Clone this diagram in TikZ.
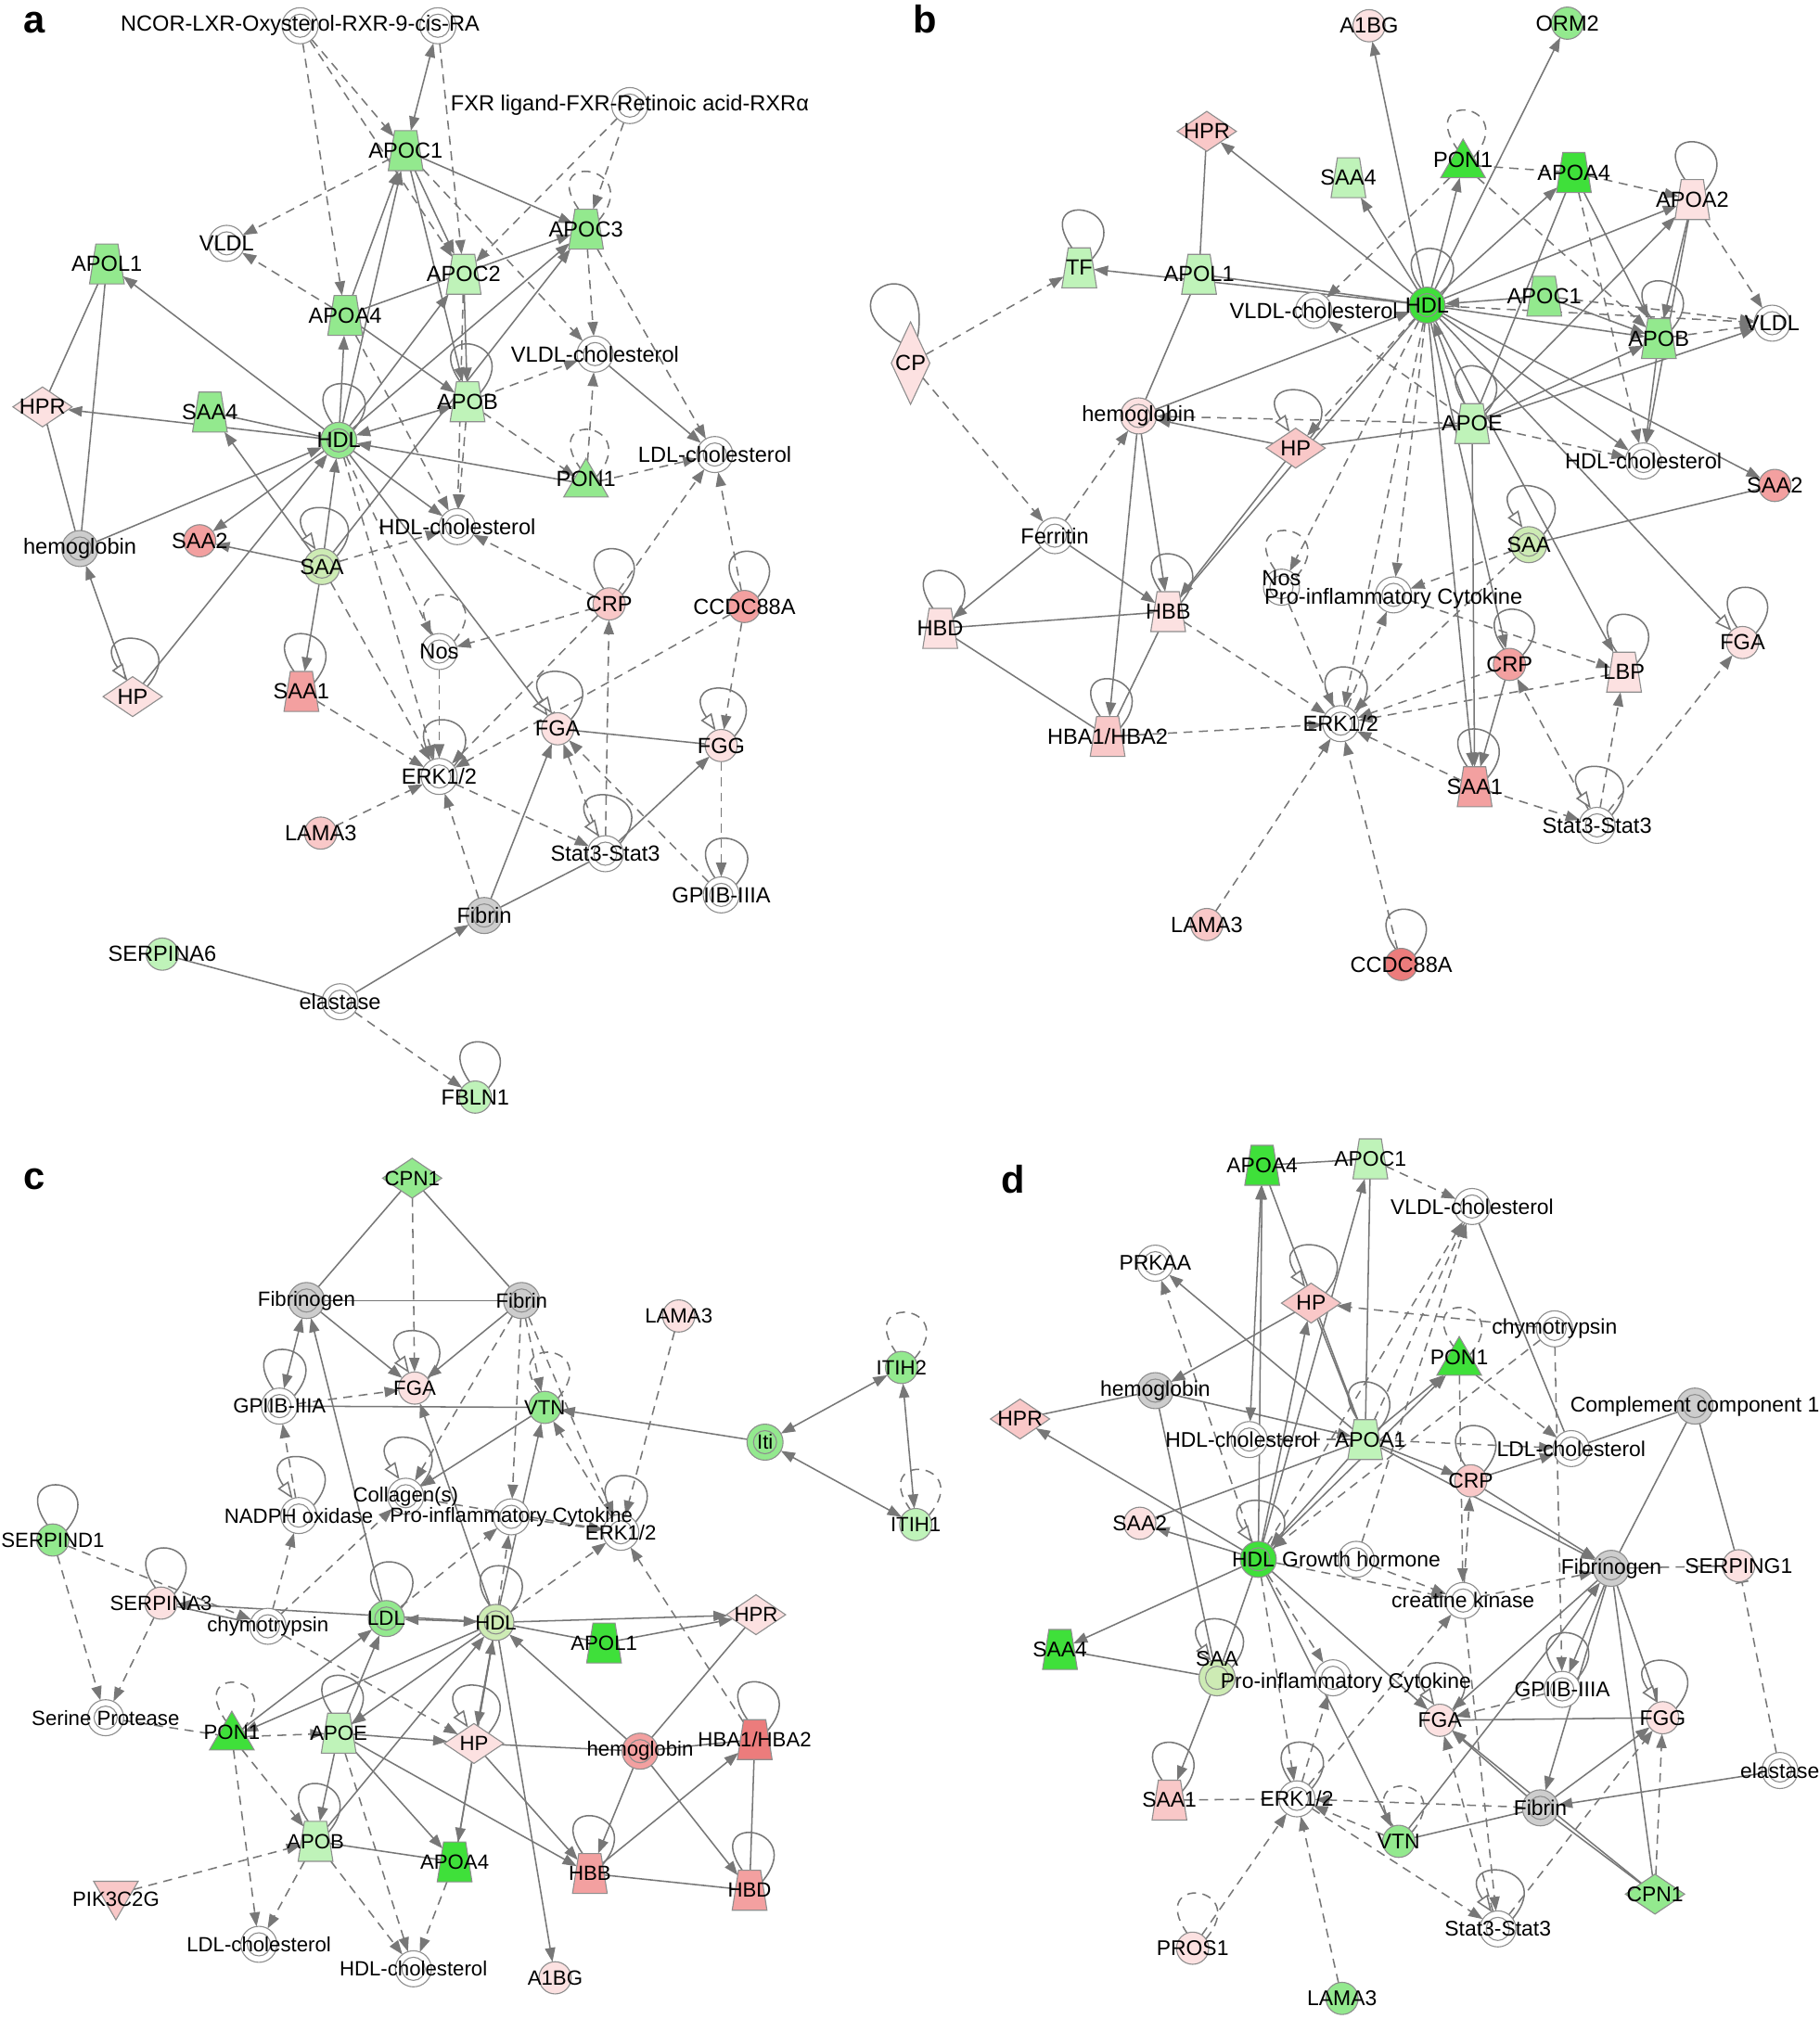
\documentclass[tikz,border=0pt]{standalone}
\usepackage{fontspec}
\setmainfont{Liberation Sans}
\usetikzlibrary{shapes.geometric,arrows.meta}
\pgfdeclarelayer{back}
\pgfdeclarelayer{bg}
\pgfdeclarelayer{fg}
\pgfsetlayers{back,bg,main,fg}
\definecolor{ec}{HTML}{777777}
\definecolor{bc}{HTML}{8E8E8E}
\definecolor{ga}{HTML}{BFF3B9}
\definecolor{gb}{HTML}{93E98E}
\definecolor{gc}{HTML}{3FE03A}
\definecolor{gs}{HTML}{CDEBB4}
\definecolor{pa}{HTML}{FCE1E1}
\definecolor{pb}{HTML}{F9C8C8}
\definecolor{pc}{HTML}{F3A0A0}
\definecolor{pr}{HTML}{EC7C7C}
\definecolor{gy}{HTML}{CDCDCD}
\tikzset{
  base/.style={draw=bc,line width=0.8pt,inner sep=0pt,outer sep=0pt},
  cir/.style={base,circle,minimum size=25pt},
  dcir/.style={base,circle,minimum size=28pt,path picture={\draw[bc,line width=0.8pt] (path picture bounding box.center) circle (9pt);}},
  trap/.style={base,trapezium,inner sep=2pt,trapezium left angle=74,trapezium right angle=74,trapezium stretches=true,minimum width=27pt,minimum height=31pt},
  tri/.style={base,regular polygon,regular polygon sides=3,minimum size=40pt},
  itri/.style={tri,shape border rotate=180},
  dia/.style={base,diamond,minimum width=46pt,minimum height=31pt},
  tdia/.style={base,diamond,minimum width=30pt,minimum height=64pt},
  lbl/.style={font=\fontsize{17}{17}\selectfont,inner sep=0pt},
  ln/.style={draw=ec,line width=1.1pt},
  dsh/.style={dash pattern=on 7pt off 5pt},
  sa/.style={ln,-{Triangle[length=11pt,width=8pt]}},
  da/.style={sa,dsh},
  sb/.style={ln,{Triangle[length=11pt,width=8pt]}-{Triangle[length=11pt,width=8pt]}},
  db/.style={sb,dsh},
  sl/.style={ln},
  dl/.style={ln,dsh},
  so/.style={ln,-{Triangle[open,length=13pt,width=10pt,fill=white]}},
  dt/.style={ln,dsh,-{Bar[width=10pt]}},
  plab/.style={font=\bfseries\fontsize{30}{30}\selectfont,inner sep=0pt}
}
\newcommand\mknode[7][]{\node[#3,fill=#4] (#2) at (#5,#6) {};\begin{pgfonlayer}{fg}\node[lbl,#1] (#2t) at (#2) {#7};\end{pgfonlayer}}
\newcommand\lnk[3]{\draw[#1] (#2) -- (#3);}
\newcommand\slf[2]{\draw[#1] (#2.35) to[out=50,in=125,min distance=56pt] (#2.110);}
\begin{document}
\begin{tikzpicture}[x=1pt,y=-1pt]
\useasboundingbox (0,0) rectangle (1413,1568);
\begin{pgfonlayer}{back}\fill[white] (0,0) rectangle (1413,1568);\end{pgfonlayer}
\node[plab] (la) at (27,18) {a};
\node[plab] (lb) at (718,15) {b};
\node[plab] (lc) at (27,916) {c};
\node[plab] (ld) at (787,916) {d};
% ================= panel a
\mknode{ancor}{dcir}{white}{233}{20}{NCOR-LXR-Oxysterol-RXR-9-cis-RA}
\mknode{ancr}{dcir}{white}{340}{20}{}
\mknode{afxr}{dcir}{white}{489}{82}{FXR ligand-FXR-Retinoic acid-RXRα}
\mknode{aapoc1}{trap}{gb}{315}{117}{APOC1}
\mknode{aapoc3}{trap}{gb}{455}{178}{APOC3}
\mknode{aapoc2}{trap}{ga}{360}{213}{APOC2}
\mknode{avldl}{dcir}{white}{176}{189}{VLDL}
\mknode{aapol1}{trap}{gb}{83}{205}{APOL1}
\mknode{aapoa4}{trap}{gb}{268}{245}{APOA4}
\mknode{avldlc}{dcir}{white}{462}{275}{VLDL-cholesterol}
\mknode{aapob}{trap}{ga}{363}{312}{APOB}
\mknode{ahpr}{dia}{pa}{33}{316}{HPR}
\mknode{asaa4}{trap}{gb}{163}{320}{SAA4}
\mknode{ahdl}{dcir}{gb}{263}{342}{HDL}
\mknode[yshift=4pt]{apon1}{tri}{gb}{455}{376}{PON1}
\mknode{aldlc}{dcir}{white}{555}{353}{LDL-cholesterol}
\mknode{ahdlc}{dcir}{white}{355}{409}{HDL-cholesterol}
\mknode{ahemo}{dcir}{gy}{62}{426}{hemoglobin}
\mknode{asaa2}{cir}{pc}{155}{420}{SAA2}
\mknode{asaa}{dcir}{gs}{250}{440}{SAA}
\mknode{acrp}{cir}{pb}{473}{469}{CRP}
\mknode{accdc}{cir}{pc}{578}{471}{CCDC88A}
\mknode{anos}{dcir}{white}{341}{506}{Nos}
\mknode{ahp}{dia}{pa}{103}{541}{HP}
\mknode{asaa1}{trap}{pc}{234}{537}{SAA1}
\mknode{afga}{cir}{pa}{433}{566}{FGA}
\mknode{afgg}{cir}{pa}{560}{579}{FGG}
\mknode{aerk}{dcir}{white}{341}{603}{ERK1/2}
\mknode{alama3}{cir}{pb}{249}{647}{LAMA3}
\mknode{astat}{dcir}{white}{470}{663}{Stat3-Stat3}
\mknode{agp}{dcir}{white}{560}{695}{GPIIB-IIIA}
\mknode{afibrin}{dcir}{gy}{376}{711}{Fibrin}
\mknode{aserp}{cir}{ga}{126}{741}{SERPINA6}
\mknode{aelast}{dcir}{white}{264}{778}{elastase}
\mknode{afbln}{cir}{ga}{369}{852}{FBLN1}
% ================= panel b
\mknode{ba1bg}{cir}{pa}{1063}{20}{A1BG}
\mknode{borm2}{cir}{gb}{1217}{18}{ORM2}
\mknode{bhpr}{dia}{pb}{937}{102}{HPR}
\mknode[yshift=4pt]{bpon1}{tri}{gc}{1136}{128}{PON1}
\mknode{bsaa4}{trap}{ga}{1047}{138}{SAA4}
\mknode{bapoa4}{trap}{gc}{1222}{134}{APOA4}
\mknode{bapoa2}{trap}{pa}{1314}{155}{APOA2}
\mknode{btf}{trap}{ga}{838}{208}{TF}
\mknode{bapol1}{trap}{ga}{931}{213}{APOL1}
\mknode{bvldlc}{dcir}{white}{1020}{241}{VLDL-cholesterol}
\mknode{bhdl}{dcir}{gc}{1108}{237}{HDL}
\mknode{bapoc1}{trap}{gb}{1199}{230}{APOC1}
\mknode{bapob}{trap}{gb}{1288}{263}{APOB}
\mknode{bvldl}{dcir}{white}{1376}{251}{VLDL}
\mknode{bcp}{tdia}{pa}{707}{282}{CP}
\mknode{bhemo}{dcir}{pa}{884}{323}{hemoglobin}
\mknode{bhp}{dia}{pb}{1006}{348}{HP}
\mknode{bapoe}{trap}{ga}{1143}{329}{APOE}
\mknode{bhdlc}{dcir}{white}{1276}{358}{HDL-cholesterol}
\mknode{bsaa2}{cir}{pc}{1378}{377}{SAA2}
\mknode{bferr}{dcir}{white}{819}{416}{Ferritin}
\mknode{bsaa}{dcir}{gs}{1187}{423}{SAA}
\mknode{bhbb}{trap}{pa}{907}{475}{HBB}
\mknode{bhbd}{trap}{pa}{730}{488}{HBD}
\mknode[yshift=7pt]{bnos}{dcir}{white}{995}{456}{Nos}
\mknode[yshift=-3pt]{bpro}{dcir}{white}{1082}{462}{Pro-inflammatory Cytokine}
\mknode{bcrp}{cir}{pc}{1172}{516}{CRP}
\mknode{blbp}{trap}{pa}{1261}{522}{LBP}
\mknode{bfga}{cir}{pa}{1353}{499}{FGA}
\mknode{bhba}{trap}{pb}{860}{572}{HBA1/HBA2}
\mknode{berk}{dcir}{white}{1041}{562}{ERK1/2}
\mknode{bsaa1}{trap}{pc}{1145}{611}{SAA1}
\mknode{bstat}{dcir}{white}{1240}{641}{Stat3-Stat3}
\mknode{blama3}{cir}{pb}{937}{718}{LAMA3}
\mknode{bccdc}{cir}{pr}{1088}{749}{CCDC88A}
% ================= panel c
\begin{scope}[lbl/.style={font=\fontsize{16}{16}\selectfont,inner sep=0pt}]
\mknode{ccpn1}{dia}{gb}{320}{915}{CPN1}
\mknode{cfbg}{dcir}{gy}{238}{1010}{Fibrinogen}
\mknode{cfib}{dcir}{gy}{405}{1010}{Fibrin}
\mknode{clama3}{cir}{pa}{527}{1022}{LAMA3}
\mknode{cfga}{cir}{pa}{322}{1078}{FGA}
\mknode{cgp}{dcir}{white}{217}{1092}{GPIIB-IIIA}
\mknode{cvtn}{cir}{gb}{423}{1093}{VTN}
\mknode{citih2}{cir}{gb}{700}{1062}{ITIH2}
\mknode{citi}{dcir}{gb}{594}{1120}{Iti}
\mknode{citih1}{cir}{ga}{711}{1184}{ITIH1}
\mknode{ccoll}{dcir}{white}{315}{1162}{Collagen(s)}
\mknode{cnad}{dcir}{white}{232}{1177}{NADPH oxidase}
\mknode{cpro}{dcir}{white}{397}{1178}{Pro-inflammatory Cytokine}
\mknode{cerk}{dcir}{white}{482}{1190}{ERK1/2}
\mknode{csd1}{cir}{gb}{41}{1196}{SERPIND1}
\mknode{csa3}{cir}{pa}{125}{1245}{SERPINA3}
\mknode{cchy}{dcir}{white}{208}{1263}{chymotrypsin}
\mknode{cldl}{dcir}{gb}{300}{1257}{LDL}
\mknode{chdl}{dcir}{gs}{385}{1260}{HDL}
\mknode{chpr}{dia}{pa}{587}{1254}{HPR}
\mknode{capol1}{trap}{gc}{469}{1276}{APOL1}
\mknode{csp}{dcir}{white}{82}{1334}{Serine Protease}
\mknode[yshift=4pt]{cpon1}{tri}{gc}{180}{1349}{PON1}
\mknode{capoe}{trap}{ga}{263}{1346}{APOE}
\mknode{chp}{dia}{pa}{368}{1354}{HP}
\mknode{chemo}{dcir}{pc}{497}{1360}{hemoglobin}
\mknode{chba}{trap}{pr}{586}{1351}{HBA1/HBA2}
\mknode{capob}{trap}{ga}{245}{1430}{APOB}
\mknode{capoa4}{trap}{gc}{353}{1446}{APOA4}
\mknode{chbb}{trap}{pc}{458}{1455}{HBB}
\mknode{chbd}{trap}{pc}{582}{1468}{HBD}
\mknode[yshift=-4pt]{cpik}{itri}{pb}{90}{1471}{PIK3C2G}
\mknode{cldlc}{dcir}{white}{201}{1510}{LDL-cholesterol}
\mknode{chdlc}{dcir}{white}{321}{1529}{HDL-cholesterol}
\mknode{ca1bg}{cir}{pa}{431}{1536}{A1BG}
\end{scope}
% ================= panel d
\begin{scope}[lbl/.style={font=\fontsize{16.5}{16.5}\selectfont,inner sep=0pt}]
\mknode{dapoa4}{trap}{gc}{980}{905}{APOA4}
\mknode{dapoc1}{trap}{ga}{1064}{900}{APOC1}
\mknode{dvldlc}{dcir}{white}{1143}{937}{VLDL-cholesterol}
\mknode{dprk}{dcir}{white}{897}{981}{PRKAA}
\mknode{dhp}{dia}{pb}{1018}{1012}{HP}
\mknode{dchy}{dcir}{white}{1207}{1032}{chymotrypsin}
\mknode[yshift=4pt]{dpon1}{tri}{gc}{1133}{1058}{PON1}
\mknode{dhemo}{dcir}{gy}{897}{1080}{hemoglobin}
\mknode{dcc1}{dcir}{gy}{1316}{1092}{Complement component 1}
\mknode{dhpr}{dia}{pb}{792}{1102}{HPR}
\mknode[xshift=-6pt]{dhdlc}{dcir}{white}{970}{1118}{HDL-cholesterol}
\mknode[xshift=4pt]{dapoa1}{trap}{ga}{1060}{1118}{APOA1}
\mknode{dldlc}{dcir}{white}{1220}{1125}{LDL-cholesterol}
\mknode{dcrp}{cir}{pb}{1142}{1150}{CRP}
\mknode{dsaa2}{cir}{pa}{885}{1183}{SAA2}
\mknode[xshift=-4pt]{dhdl}{dcir}{gc}{977}{1211}{HDL}
\mknode[xshift=4pt]{dgh}{dcir}{white}{1053}{1211}{Growth hormone}
\mknode{dfbg}{dcir}{gy}{1251}{1218}{Fibrinogen}
\mknode{dsg1}{cir}{pa}{1350}{1216}{SERPING1}
\mknode{dck}{dcir}{white}{1136}{1243}{creatine kinase}
\mknode{dsaa4}{trap}{gc}{823}{1281}{SAA4}
\mknode[yshift=15pt]{dsaa}{dcir}{gs}{945}{1303}{SAA}
\mknode[yshift=-4pt,xshift=10pt]{dpro}{dcir}{white}{1035}{1303}{Pro-inflammatory Cytokine}
\mknode{dgp}{dcir}{white}{1213}{1312}{GPIIB-IIIA}
\mknode{dfga}{cir}{pa}{1118}{1336}{FGA}
\mknode{dfgg}{cir}{pa}{1291}{1334}{FGG}
\mknode{delas}{dcir}{white}{1382}{1375}{elastase}
\mknode{dsaa1}{trap}{pb}{908}{1398}{SAA1}
\mknode{derk}{dcir}{white}{1007}{1397}{ERK1/2}
\mknode{dfib}{dcir}{gy}{1196}{1404}{Fibrin}
\mknode{dvtn}{cir}{gb}{1086}{1430}{VTN}
\mknode{dcpn1}{dia}{gb}{1285}{1471}{CPN1}
\mknode{dstat}{dcir}{white}{1163}{1498}{Stat3-Stat3}
\mknode{dpros}{cir}{pa}{926}{1513}{PROS1}
\mknode{dlama3}{cir}{gb}{1042}{1552}{LAMA3}
\end{scope}
% ================= edges
\begin{pgfonlayer}{bg}
% --- a
\lnk{da}{ancor}{aapoc1}\lnk{da}{ancor}{aapoa4}\lnk{da}{ancor}{aapoc2}
\lnk{sb}{ancr}{aapoc1}\lnk{da}{ancr}{aapoc2}
\lnk{da}{afxr}{aapoc3}\lnk{da}{afxr}{aapoc2}
\lnk{da}{aapoc1}{avldl}\lnk{sa}{aapoc1}{aapoc3}\lnk{sa}{aapoc1}{aapoc2}\lnk{sa}{aapoc1}{aapob}
\lnk{sa}{aapoa4}{aapoc1}\lnk{da}{aapoc1}{avldlc}\lnk{sa}{ahdl}{aapoc1}
\lnk{sa}{aapoa4}{aapoc3}\slf{dl}{aapoc3}
\lnk{da}{aapoc3}{avldlc}\lnk{da}{aapoc3}{aldlc}\lnk{sa}{ahdl}{aapoc3}\lnk{sa}{asaa}{aapoc3}
\lnk{da}{aapoa4}{avldl}\lnk{sa}{aapoa4}{aapob}\lnk{da}{aapoa4}{ahdlc}\lnk{sa}{ahdl}{aapoa4}
\lnk{sa}{ahdl}{aapoc2}\lnk{sa}{aapoc2}{aapob}\lnk{da}{aapoc2}{ahdlc}
\slf{sl}{aapob}\lnk{da}{aapob}{avldlc}\lnk{da}{aapob}{ahdlc}\lnk{sb}{aapob}{ahdl}
\lnk{sa}{avldlc}{aldlc}\lnk{da}{apon1}{avldlc}\lnk{da}{apon1}{aldlc}\lnk{sa}{apon1}{ahdl}
\slf{dl}{apon1}\lnk{da}{aapob}{apon1}
\lnk{sa}{ahdl}{aapol1}\lnk{sa}{ahdl}{ahpr}\lnk{sl}{ahdl}{asaa4}\lnk{sa}{ahdl}{asaa2}
\lnk{sa}{ahdl}{ahdlc}\lnk{so}{ahdl}{afga}\lnk{da}{ahdl}{anos}\lnk{da}{ahdl}{aerk}\slf{sl}{ahdl}
\lnk{sl}{aapol1}{ahpr}\lnk{sl}{aapol1}{ahemo}\lnk{sl}{ahpr}{ahemo}
\lnk{sa}{ahemo}{ahdl}\lnk{sa}{ahp}{ahemo}\lnk{sa}{ahp}{ahdl}\slf{so}{ahp}
\lnk{sa}{asaa}{asaa4}\lnk{sa}{asaa}{asaa2}\lnk{sa}{asaa}{ahdl}\lnk{sa}{asaa}{asaa1}
\lnk{da}{asaa}{ahdlc}\lnk{da}{asaa}{aerk}\slf{so}{asaa}
\slf{sl}{asaa1}\lnk{da}{asaa1}{aerk}
\lnk{da}{acrp}{ahdlc}\lnk{da}{acrp}{anos}\lnk{da}{acrp}{aerk}\slf{sl}{acrp}\lnk{da}{acrp}{aldlc}
\lnk{da}{accdc}{aerk}\lnk{da}{accdc}{afgg}\lnk{da}{accdc}{aldlc}
\lnk{da}{astat}{acrp}\lnk{da}{astat}{afga}\lnk{sa}{astat}{afgg}\lnk{da}{aerk}{astat}\slf{so}{astat}
\slf{dl}{anos}\lnk{da}{anos}{aerk}
\lnk{sl}{afga}{afgg}\slf{so}{afga}\slf{so}{afgg}\lnk{da}{afgg}{agp}\lnk{da}{agp}{afga}\slf{sl}{agp}
\lnk{da}{alama3}{aerk}\slf{sl}{aerk}
\lnk{da}{afibrin}{aerk}\lnk{sa}{afibrin}{afga}\lnk{sl}{afibrin}{astat}
\lnk{sl}{aserp}{aelast}\lnk{sa}{aelast}{afibrin}\lnk{da}{aelast}{afbln}\slf{sl}{afbln}\slf{sl}{accdc}
% --- b
\lnk{sa}{bhdl}{ba1bg}\lnk{sa}{bhdl}{borm2}\lnk{sa}{bhdl}{bhpr}\lnk{sa}{bhdl}{bsaa4}
\lnk{sa}{bhdl}{bpon1}\lnk{sa}{bhdl}{bapoa4}\lnk{sa}{bhdl}{bapoa2}\lnk{sa}{bhdl}{btf}
\lnk{sl}{bhdl}{bapol1}\lnk{da}{bhdl}{bvldl}\lnk{sa}{bhdl}{bapob}\lnk{sa}{bhdl}{bhdlc}
\lnk{sa}{bhdl}{bsaa2}\lnk{so}{bhdl}{bfga}\lnk{sa}{bhdl}{blbp}\lnk{sa}{bhdl}{bsaa1}
\lnk{sa}{bhdl}{bcrp}\lnk{da}{bhdl}{bpro}\lnk{da}{bhdl}{bnos}\lnk{da}{bhdl}{berk}\lnk{da}{bhdl}{bhp}
\slf{sl}{bhdl}
\lnk{da}{bpon1}{bvldlc}\lnk{da}{bpon1}{bapob}\slf{dl}{bpon1}\lnk{dl}{bpon1}{bapoa4}\lnk{da}{bapoa4}{bapoa2}
\lnk{sl}{bapol1}{bhpr}\lnk{sl}{bapol1}{bhemo}
\lnk{sa}{bapoa4}{bapob}\lnk{da}{bapoa4}{bhdlc}\lnk{sl}{bapoa4}{bapoe}
\slf{sl}{bapoa2}\lnk{da}{bapoa2}{bvldl}\lnk{sa}{bapoa2}{bapob}\lnk{sa}{bapoa2}{bhdlc}
\lnk{da}{bapoc1}{bvldl}\lnk{sa}{bapoc1}{bhdl}\lnk{sa}{bapoc1}{bapob}
\lnk{da}{bapob}{bvldl}\lnk{sa}{bapob}{bhdlc}\slf{sl}{bapob}
\lnk{sa}{bapoe}{bhdl}\lnk{sa}{bapoe}{bapoa2}\lnk{sa}{bapoe}{bvldl}\lnk{da}{bapoe}{bhemo}
\lnk{da}{bapoe}{bhdlc}\lnk{sa}{bapoe}{bsaa1}\slf{sl}{bapoe}\lnk{da}{bapoe}{bvldlc}\lnk{sa}{bapoe}{bapob}
\lnk{sa}{bhp}{bhemo}\lnk{sl}{bhp}{bapoe}\slf{so}{bhp}\lnk{sa}{bhp}{bhbb}
\lnk{sa}{bhemo}{bhdl}
\lnk{da}{bcp}{btf}\lnk{da}{bcp}{bferr}\draw[sl] (bcp.75) to[out=80,in=150,min distance=75pt] (bcp.115);
\lnk{sa}{bhemo}{bhbb}\lnk{sa}{bhemo}{bhba}\lnk{da}{bferr}{bhemo}\lnk{sa}{bferr}{bhbd}\lnk{sa}{bferr}{bhbb}
\lnk{sl}{bhbd}{bhbb}\lnk{sl}{bhbd}{bhba}\lnk{sl}{bhbb}{bhba}\lnk{da}{bhbb}{berk}\lnk{da}{bhba}{berk}
\lnk{sl}{bhbb}{bhdl}\slf{sl}{bhbb}\slf{sl}{bhbd}\slf{sl}{bhba}
\lnk{sl}{bsaa}{bsaa2}\lnk{da}{bsaa}{bpro}\lnk{da}{bsaa}{berk}\slf{so}{bsaa}
\lnk{da}{bcrp}{berk}\lnk{sa}{bcrp}{bsaa1}\slf{sl}{bcrp}\lnk{da}{blbp}{berk}
\lnk{da}{bstat}{blbp}\lnk{da}{bstat}{bfga}\lnk{da}{bstat}{bcrp}
\lnk{da}{bsaa1}{berk}\lnk{da}{bsaa1}{bstat}\lnk{da}{berk}{bpro}\lnk{da}{bnos}{berk}
\lnk{da}{bpro}{blbp}\lnk{da}{blama3}{berk}\lnk{da}{bccdc}{berk}
\slf{dl}{bnos}\slf{sl}{berk}\slf{sl}{blbp}\slf{sl}{bfga}\slf{sl}{bsaa1}\slf{so}{bstat}\slf{sl}{bccdc}\slf{sl}{btf}
% --- c
\lnk{sl}{ccpn1}{cfbg}\lnk{sl}{ccpn1}{cfib}\lnk{da}{ccpn1}{cfga}
\lnk{sl}{cfbg}{cfib}\lnk{sa}{cfbg}{cfga}\lnk{sa}{cfib}{cfga}\lnk{sb}{cfbg}{cgp}
\lnk{da}{cfib}{cvtn}\lnk{da}{cfib}{cpro}\lnk{da}{cfib}{ccoll}\lnk{da}{cfib}{cerk}
\lnk{da}{cgp}{cfga}\lnk{sl}{cgp}{cvtn}
\lnk{sa}{citi}{cvtn}\lnk{sb}{citi}{citih2}\lnk{sb}{citi}{citih1}\lnk{sb}{citih2}{citih1}
\lnk{sa}{cvtn}{ccoll}\lnk{da}{cerk}{cvtn}\lnk{da}{clama3}{cerk}
\lnk{da}{ccoll}{cerk}\lnk{da}{cpro}{cerk}\lnk{da}{cnad}{cgp}
\lnk{da}{csd1}{csp}\lnk{da}{csd1}{cchy}\lnk{da}{csa3}{csp}\lnk{sl}{csa3}{cchy}
\lnk{da}{cchy}{chp}\lnk{da}{cchy}{cnad}\lnk{da}{cchy}{ccoll}
\slf{sl}{cldl}\slf{sl}{chdl}\lnk{sb}{cldl}{chdl}\lnk{sa}{chdl}{chpr}\lnk{sl}{chdl}{capol1}
\lnk{sa}{capol1}{chpr}\lnk{sa}{chdl}{ca1bg}\lnk{sa}{chdl}{capoa4}\lnk{sa}{chdl}{chp}
\lnk{sa}{chdl}{capoe}\lnk{sa}{chdl}{cpon1}\lnk{sa}{chdl}{csa3}\lnk{sa}{cldl}{cfbg}
\lnk{sa}{chdl}{cfga}\lnk{sa}{chdl}{cvtn}\lnk{da}{chdl}{cpro}\lnk{da}{chdl}{cerk}\lnk{da}{cldl}{cpro}
\lnk{sa}{chemo}{chdl}\lnk{sl}{chemo}{chpr}\lnk{sa}{chemo}{chbb}\lnk{sa}{chemo}{chbd}
\lnk{sl}{chp}{chemo}\lnk{sl}{chemo}{chba}
\lnk{sa}{chbb}{chba}\lnk{sl}{chbb}{chbd}\lnk{sl}{chba}{chbd}\lnk{da}{chba}{cerk}
\lnk{dl}{csp}{cpon1}\lnk{da}{cpon1}{capoe}\lnk{da}{cpon1}{cldlc}\lnk{da}{cpon1}{capob}\slf{dl}{cpon1}
\lnk{sa}{capoe}{cldl}\lnk{sa}{capoe}{capob}\lnk{sa}{capoe}{capoa4}
\lnk{sa}{capoe}{chp}\lnk{sa}{capoe}{chbb}\lnk{da}{capoe}{chdlc}\slf{sl}{capoe}
\lnk{da}{capob}{cldlc}\lnk{da}{capob}{chdlc}\lnk{sl}{capob}{capoa4}\lnk{da}{cpik}{capob}
\lnk{sa}{capob}{chdl}\lnk{sa}{cpon1}{cldl}\slf{sl}{capob}
\lnk{da}{capoa4}{chdlc}\lnk{sa}{capoa4}{chdl}\lnk{sa}{chp}{chbb}\slf{so}{chp}
\slf{so}{cfga}\slf{sl}{cgp}\slf{dl}{cvtn}\slf{dl}{citih2}\slf{dl}{citih1}\slf{so}{ccoll}
\slf{so}{cnad}\slf{sl}{cerk}\slf{sl}{csd1}\slf{sl}{csa3}\slf{sl}{chba}\slf{sl}{chbb}\slf{sl}{chbd}
% --- d
\lnk{sl}{dapoa4}{dapoc1}\lnk{sb}{dapoa4}{dhdlc}\lnk{sa}{dhdl}{dapoa4}\lnk{sl}{dapoa4}{dapoa1}
\lnk{da}{dapoc1}{dvldlc}\lnk{sa}{dhdl}{dapoc1}\lnk{sl}{dapoc1}{dapoa1}
\lnk{sl}{dvldlc}{dldlc}\lnk{da}{dhdl}{dvldlc}\lnk{da}{dapoa1}{dvldlc}\lnk{da}{dgh}{dvldlc}
\lnk{sa}{dhp}{dhemo}\lnk{da}{dchy}{dhp}\lnk{sa}{dhdl}{dhp}\lnk{sl}{dhp}{dapoa1}\slf{so}{dhp}
\lnk{sa}{dapoa1}{dprk}\lnk{da}{dhdl}{dprk}
\lnk{sa}{dapoa1}{dpon1}\lnk{da}{dpon1}{dldlc}\lnk{da}{dpon1}{dck}\slf{dl}{dpon1}\lnk{sa}{dhdl}{dpon1}
\lnk{da}{dchy}{dgp}\lnk{da}{dchy}{dhdl}
\lnk{sa}{dhemo}{dapoa1}\lnk{sl}{dhemo}{dhpr}\lnk{sl}{dhemo}{dsaa}
\lnk{sl}{dcc1}{dldlc}\lnk{sl}{dcc1}{dfbg}\lnk{sl}{dcc1}{dsg1}
\lnk{sa}{dhdl}{dhpr}
\lnk{dl}{dapoa1}{dhdlc}\lnk{sa}{dapoa1}{dcrp}\lnk{sa}{dapoa1}{dfbg}\lnk{da}{dapoa1}{dldlc}
\lnk{sa}{dapoa1}{dhdl}\lnk{sl}{dsaa2}{dapoa1}\lnk{sa}{dhdl}{dsaa2}
\lnk{sa}{dcrp}{dldlc}\lnk{sa}{dcrp}{dfbg}\slf{sl}{dcrp}\lnk{da}{dck}{dcrp}
\lnk{dl}{dfbg}{dsg1}\lnk{sa}{dfbg}{dfga}\lnk{sa}{dfbg}{dfgg}\lnk{sa}{dfbg}{dfib}\lnk{sa}{dfbg}{dgp}
\lnk{da}{dck}{dfbg}\lnk{sl}{dfbg}{dcpn1}
\lnk{dt}{delas}{dsg1}\lnk{sa}{delas}{dfib}
\lnk{sa}{dhdl}{dsaa4}\lnk{sl}{dsaa4}{dsaa}\lnk{sa}{dsaa}{dsaa1}\lnk{sl}{dhdl}{dsaa}\slf{so}{dsaa}
\lnk{sl}{dfga}{dfgg}\lnk{da}{dgp}{dfga}\slf{so}{dfgg}\slf{sl}{dgp}
\lnk{sa}{dfib}{dfga}\lnk{sa}{dfib}{dfgg}\lnk{da}{dcpn1}{dfgg}\lnk{sl}{dcpn1}{dfib}\lnk{sa}{dcpn1}{dfga}
\lnk{sa}{dvtn}{dfbg}\lnk{sl}{dvtn}{dfib}\lnk{da}{dvtn}{derk}\lnk{sa}{dhdl}{dvtn}\slf{dl}{dvtn}
\lnk{dl}{dsaa1}{derk}\lnk{da}{dfib}{derk}\lnk{da}{derk}{dstat}\lnk{da}{derk}{dck}\lnk{da}{derk}{dpro}
\lnk{da}{dpros}{derk}\lnk{da}{dlama3}{derk}\slf{dl}{dpros}\slf{sl}{derk}\slf{sl}{dsaa1}\slf{so}{dstat}
\lnk{da}{dstat}{dfga}\lnk{da}{dstat}{dfgg}\lnk{da}{dck}{dstat}
\lnk{da}{dhdl}{dck}\lnk{da}{dhdl}{dpro}\lnk{da}{dhdl}{derk}\lnk{sa}{dhdl}{dfga}\lnk{da}{dgh}{dck}
\slf{so}{dhdl}\slf{sl}{dapoa1}\slf{so}{dfga}
\end{pgfonlayer}
\end{tikzpicture}
\end{document}
